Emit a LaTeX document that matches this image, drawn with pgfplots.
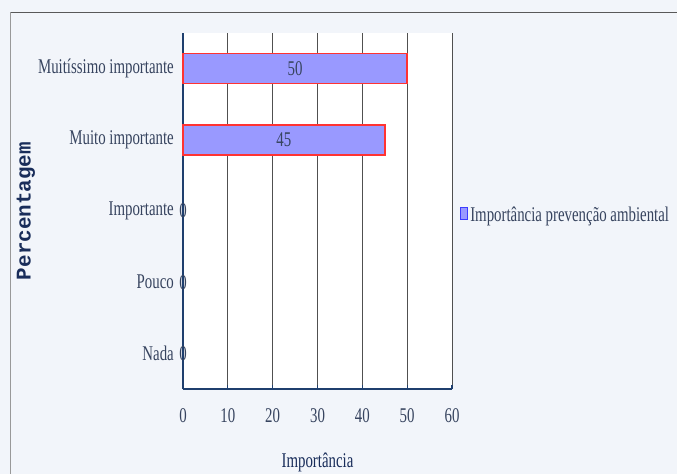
\documentclass[border=0pt]{standalone}
\usepackage{pgfplots}
\pgfplotsset{compat=1.18}
\usepackage{fontspec}
\setmainfont{Liberation Serif}[FakeStretch=0.71]
\newfontfamily\monob{Liberation Mono}

\definecolor{bgcol}{RGB}{242,245,250}
\definecolor{axcol}{RGB}{31,63,110}
\definecolor{tickcol}{RGB}{55,68,95}
\definecolor{labcol}{RGB}{25,45,90}
\definecolor{barfill}{RGB}{153,153,255}
\definecolor{barline}{RGB}{255,51,51}
\definecolor{legline}{RGB}{60,60,255}
\definecolor{gridcol}{RGB}{80,80,80}

\begin{document}
\begin{tikzpicture}
\useasboundingbox (0,0) rectangle (677bp,474bp);
\fill[bgcol] (0,0) rectangle (677bp,474bp);
\draw[line width=1.5bp, black!65] (10bp,461.5bp) -- (677bp,461.5bp);
\draw[line width=1.5bp, black!40] (10.5bp,0) -- (10.5bp,461.5bp);

\begin{axis}[
    at={(183bp,85bp)}, anchor=south west,
    scale only axis,
    width=269bp, height=356bp,
    xmin=0, xmax=60,
    ymin=-0.5, ymax=4.5,
    axis background/.style={fill=white},
    axis x line*=bottom,
    axis y line*=left,
    axis line style={axcol, line width=1.6bp},
    hide obscured x ticks=false,
    hide obscured y ticks=false,
    xtick={0,10,...,60},
    xmajorgrids=true,
    grid style={gridcol, line width=0.7bp},
    major tick length=4bp,
    tick align=inside,
    tick style={axcol, line width=1.2bp},
    ytick={0,1,2,3,4},
    yticklabels={Nada,Pouco,Importante,Muito importante,Muitíssimo importante},
    ytick style={draw=none},
    extra y ticks={-0.5,0.5,1.5,2.5,3.5,4.5},
    extra y tick labels={},
    extra y tick style={tick style={axcol, line width=1.4bp}, major tick length=5bp, grid=none},
    /pgf/number format/assume math mode=true,
    ticklabel style={font=\fontsize{21}{23}\selectfont, text=tickcol},
    xticklabel style={anchor=base, yshift=-33bp},
    yticklabel style={anchor=east, inner sep=0pt, xshift=-9bp},
    xlabel={Importância},
    xlabel style={at={(axis description cs:0.5,0)}, anchor=base, yshift=-78bp,
        font=\fontsize{21}{23}\selectfont, text=labcol},
    ylabel={Percentagem},
    ylabel style={at={(axis description cs:0,0.5)}, anchor=center, rotate=0, yshift=157bp,
        font=\monob\bfseries\fontsize{21}{23}\selectfont, text=labcol},
    legend style={at={(1.03,0.49)}, anchor=west, draw=none, fill=none,
        inner sep=0pt, font=\fontsize{21}{23}\selectfont, text=tickcol,
        nodes={inner sep=2bp}},
    legend cell align=left,
    legend image code/.code={
        \draw[fill=barfill, draw=legline, line width=1bp] (0bp,-5bp) rectangle (7bp,7bp);
    },
    clip=false,
]

% bars (only non-zero categories have a visible bar)
\addplot[xbar, bar width=30bp, fill=barfill, draw=barline, line width=1.6bp]
    coordinates {(50,4) (45,3)};
\addlegendentry{Importância prevenção ambiental}

% value labels, centred in each bar
\addplot[forget plot, draw=none, mark=none, nodes near coords, point meta=explicit symbolic,
    every node near coord/.style={anchor=center, font=\fontsize{21}{23}\selectfont, text=tickcol}]
    coordinates {(25,4)[50] (22.5,3)[45] (0,2)[0] (0,1)[0] (0,0)[0]};

\end{axis}
\end{tikzpicture}
\end{document}
